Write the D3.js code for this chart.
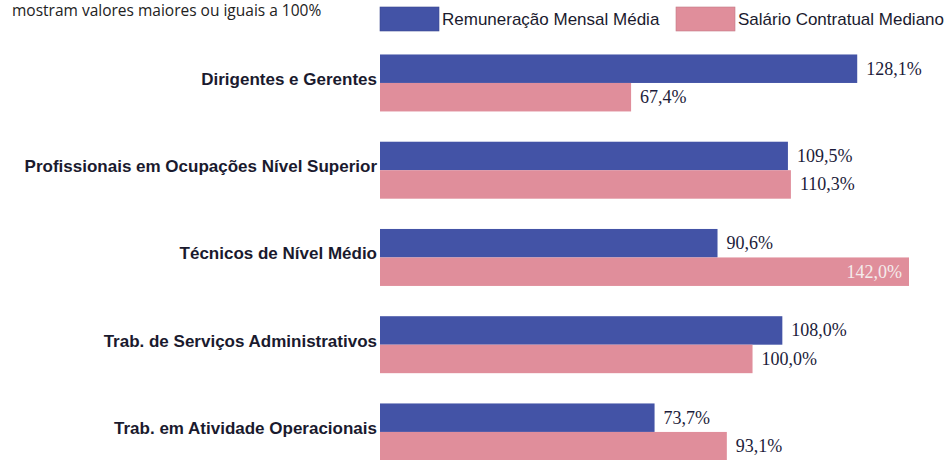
<!DOCTYPE html>
<html>
<head>
<meta charset="utf-8">
<script src="https://cdn.jsdelivr.net/npm/d3@7"></script>
<style>
  body { margin: 0; background: #fff; }
  svg { display: block; }
</style>
</head>
<body>
<div id="chart"></div>
<script>
var width = 945
var height = 460

var categories = [
  'Dirigentes e Gerentes',
  'Profissionais em Ocupações Nível Superior',
  'Técnicos de Nível Médio',
  'Trab. de Serviços Administrativos',
  'Trab. em Atividade Operacionais'
]
var seriesNames = ['Remuneração Mensal Média', 'Salário Contratual Mediano']
var remuneracao = [128.1, 109.5, 90.6, 108.0, 73.7]
var salario = [67.4, 110.3, 142.0, 100.0, 93.1]
var colors = ['#4353a6', '#e08e9b']

var rows = categories.map(function (c, i) {
  return { cat: c, values: [remuneracao[i], salario[i]] }
})

var fmt = function (v) { return d3.format('.1f')(v).replace('.', ',') + '%' }

var svg = d3.select('#chart').append('svg')
  .attr('width', width)
  .attr('height', height)

var x = d3.scaleLinear()
  .domain([0, 142])
  .range([380, 909])

var y = d3.scaleBand()
  .domain(categories)
  .range([24.2, 490.7])
  .padding(0.347)

var ySub = d3.scaleBand()
  .domain([0, 1])
  .range([0, y.bandwidth()])

// subtitle text (its first line is cut off at top in the original)
svg.append('text')
  .attr('x', 12)
  .attr('y', 16)
  .style('font-family', 'Open Sans, sans-serif')
  .style('font-size', '15.5px')
  .style('fill', '#222')
  .text('mostram valores maiores ou iguais a 100%')

// legend
var legendX = [380, 676]
var legend = svg.append('g').attr('class', 'legend')
seriesNames.forEach(function (name, i) {
  legend.append('rect')
    .attr('x', legendX[i])
    .attr('y', 7)
    .attr('width', 59)
    .attr('height', 24)
    .attr('fill', colors[i])
    .attr('stroke', d3.color(colors[i]).darker(0.4))
    .attr('stroke-width', 0.6)
  legend.append('text')
    .attr('x', legendX[i] + 62)
    .attr('y', 25)
    .style('font-family', 'Liberation Sans, Arial, sans-serif')
    .style('font-size', '17px')
    .style('fill', '#1a1a2e')
    .text(name)
})

var groups = svg.append('g').selectAll('g')
  .data(rows)
  .join('g')
  .attr('transform', function (d) { return 'translate(0,' + y(d.cat) + ')' })

groups.selectAll('rect')
  .data(function (d) { return d.values })
  .join('rect')
  .attr('x', x(0))
  .attr('y', function (d, i) { return ySub(i) })
  .attr('width', function (d) { return x(d) - x(0) })
  .attr('height', ySub.bandwidth())
  .attr('fill', function (d, i) { return colors[i] })

groups.selectAll('text.val')
  .data(function (d) { return d.values })
  .join('text')
  .attr('class', 'val')
  .attr('x', function (d) { return d > 140 ? x(d) - 7 : x(d) + 9 })
  .attr('y', function (d, i) { return ySub(i) + ySub.bandwidth() / 2 + 6 })
  .attr('text-anchor', function (d) { return d > 140 ? 'end' : 'start' })
  .style('font-family', 'Liberation Serif, Times New Roman, serif')
  .style('font-size', '18px')
  .style('fill', function (d) { return d > 140 ? '#f4ecec' : '#1c1c3a' })
  .text(fmt)

groups.append('text')
  .attr('x', 377)
  .attr('y', y.bandwidth() / 2 + 2)
  .attr('text-anchor', 'end')
  .style('font-family', 'Liberation Sans, Arial, sans-serif')
  .style('font-weight', 'bold')
  .style('font-size', '17px')
  .style('fill', '#1a1a2e')
  .text(function (d) { return d.cat })
</script>
</body>
</html>
